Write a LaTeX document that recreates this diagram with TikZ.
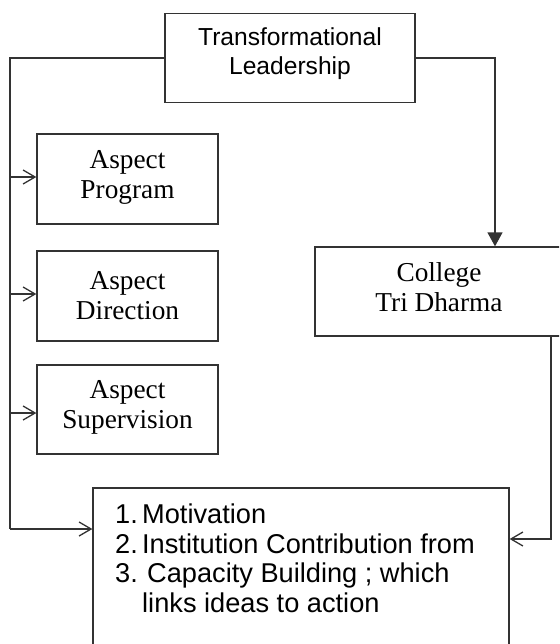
\documentclass[tikz,border=0pt]{standalone}
\usepackage{fontspec}
\setmainfont{Liberation Serif}
\newfontfamily\arialf{Liberation Sans}
\usetikzlibrary{arrows.meta}
\definecolor{linec}{HTML}{333333}
\newcommand{\numbox}[1]{\makebox[27pt][l]{#1}}
\tikzset{
  box/.style={draw=linec, line width=1.3pt, rectangle, inner sep=0pt},
  conn/.style={draw=linec, line width=1.3pt},
  openarr/.style={conn, -{Straight Barb[length=12pt,width=14pt,line width=1.3pt]}},
  fillarr/.style={conn, -{Triangle[length=14pt,width=15pt]}},
  sanstxt/.style={font=\arialf\fontsize{24.6}{29}\selectfont, align=center, inner sep=0pt},
  seriftxt/.style={font=\fontsize{27.3}{30}\selectfont, align=center, inner sep=0pt},
  listtxt/.style={font=\arialf\fontsize{27.2}{30}\selectfont, anchor=base west, inner sep=0pt}
}
\begin{document}
\begin{tikzpicture}[x=1pt,y=-1pt]
\useasboundingbox (0,0) rectangle (559,644);
\clip (0,0) rectangle (559,644);
% boxes
\node[box, minimum width=250pt, minimum height=89pt] (tl) at (290,58) {};
\node[box, minimum width=181pt, minimum height=90pt] (ap) at (127.5,179) {};
\node[box, minimum width=181pt, minimum height=90pt] (ad) at (127.5,296) {};
\node[box, minimum width=181pt, minimum height=89pt] (as) at (127.5,409.5) {};
\node[box, minimum width=250pt, minimum height=89pt] (td) at (440,291.5) {};
\node[box, minimum width=416pt, minimum height=170pt] (out) at (301,573) {};
% texts
\node[sanstxt] (tlt) at (290,53.5) {Transformational\\Leadership};
\node[seriftxt] (apt) at (127.5,177) {Aspect\\Program};
\node[seriftxt] (adt) at (127.5,295.5) {Aspect\\Direction};
\node[seriftxt] (ast) at (127.5,407.5) {Aspect\\Supervision};
\node[seriftxt] (tdt) at (439,287) {College\\Tri Dharma};
\node[listtxt] (l1) at (115,523) {\numbox{1.}Motivation};
\node[listtxt] (l2) at (115,553) {\numbox{2.}Institution Contribution from};
\node[listtxt] (l3) at (115,582) {\numbox{3.}\hspace{5pt}Capacity Building ; which};
\node[listtxt] (l4) at (142,612) {links ideas to action};
% connectors
\coordinate (lc) at (10,58);
\coordinate (lb) at (10,529);
\coordinate (rc) at (495,58);
\coordinate (rb) at (551,539);
\draw[conn] (tl.west) -- (lc) -- (lb);
\draw[openarr] (lb) -- (out.west |- lb);
\draw[openarr] (10,177) -- (ap.west |- 0,177);
\draw[openarr] (10,294) -- (ad.west |- 0,294);
\draw[openarr] (10,413) -- (as.west |- 0,413);
\draw[fillarr] (tl.east) -- (rc) -- (td.north -| rc);
\draw[openarr] (td.south -| rb) -- (rb) -- (out.east |- rb);
\end{tikzpicture}
\end{document}
